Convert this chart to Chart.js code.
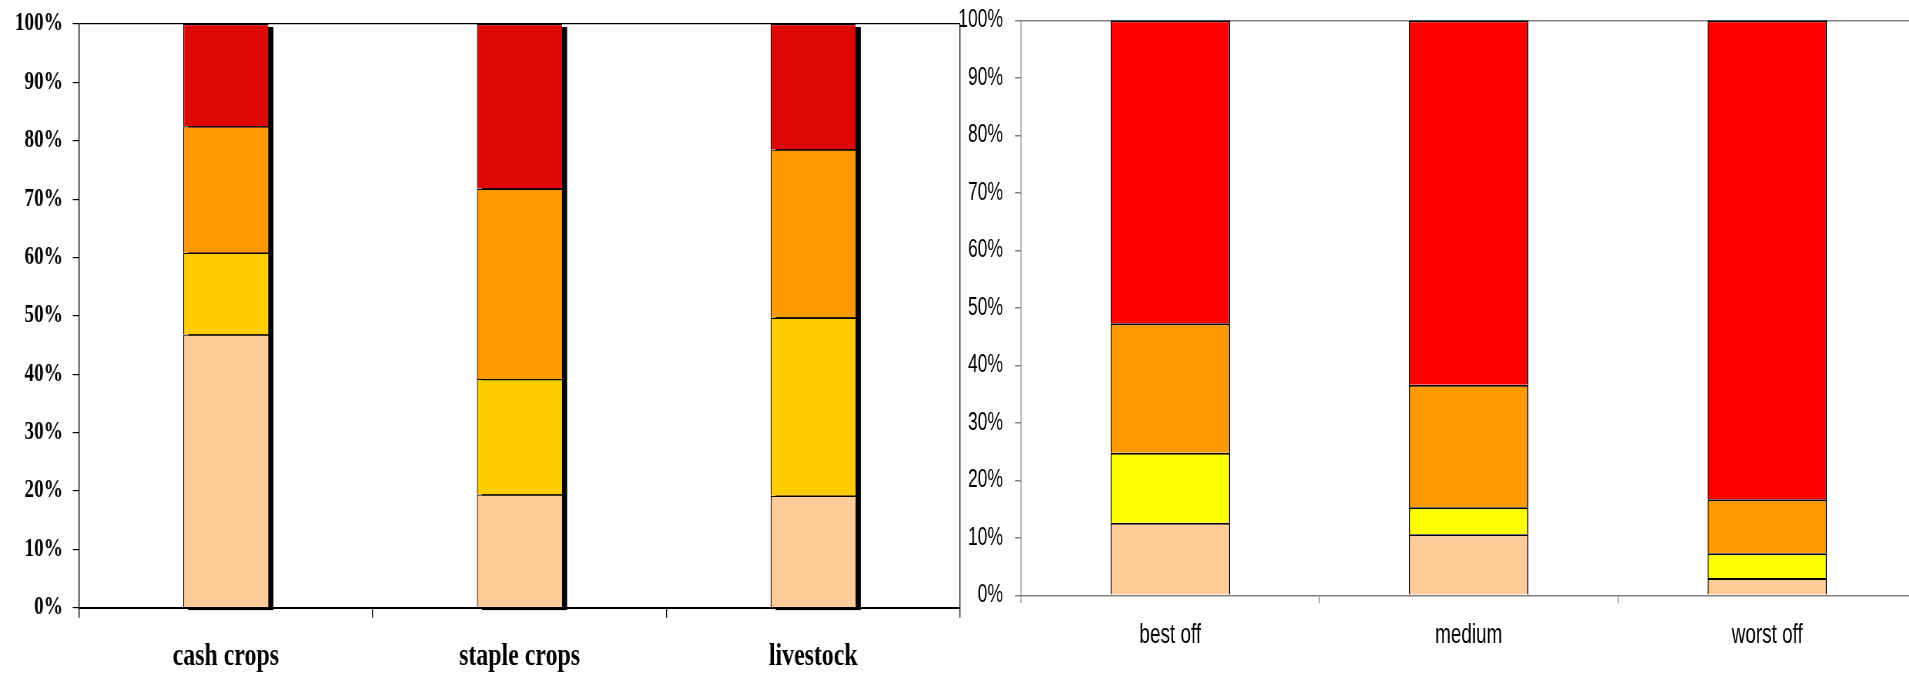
<!DOCTYPE html>
<html>
<head>
<meta charset="utf-8">
<script src="https://cdn.jsdelivr.net/npm/chart.js@4/dist/chart.umd.min.js"></script>
<style>
  html, body { margin: 0; padding: 0; background: #fff; overflow: hidden; width: 1909px; height: 675px; }
  .panel { position: absolute; top: 0; height: 675px; transform-origin: 0 0; }
  #leftPanel { left: 0; width: 1260px; transform: scaleX(0.77); }
  #rightPanel { left: 940px; width: 1405px; transform: scaleX(0.70); }
  canvas { display: block; }
</style>
</head>
<body>
<div class="panel" id="leftPanel"><canvas id="leftChart" width="1260" height="675"></canvas></div>
<div class="panel" id="rightPanel"><canvas id="rightChart" width="1405" height="675"></canvas></div>
<script>
// Activity groups (left panel)
const leftCategories = ['cash crops', 'staple crops', 'livestock'];
const leftTier1 = [46.8, 19.4, 19.2];
const leftTier2 = [14.0, 19.8, 30.5];
const leftTier3 = [21.7, 32.6, 28.8];
const leftTier4 = [17.5, 28.2, 21.5];

// Household wealth groups (right panel)
const rightCategories = ['best off', 'medium', 'worst off'];
const rightTier1 = [12.6, 10.6, 3.0];
const rightTier2 = [12.2, 4.7, 4.3];
const rightTier3 = [22.5, 21.3, 9.4];
const rightTier4 = [52.7, 63.4, 83.3];

// Shared percentage axis labels
const percentTickLabels = ['0%', '10%', '20%', '30%', '40%', '50%', '60%', '70%', '80%', '90%', '100%'];

const leftColors = ['#FFCC99', '#FFCC00', '#FF9900', '#DD0806'];
const rightColors = ['#FFCC99', '#FFFF00', '#FF9900', '#FF0000'];

// Solid drop shadow behind each full stacked column
const barShadow = {
  id: 'barShadow',
  beforeDatasetsDraw(chart, args, opts) {
    if (!opts || !opts.enabled) return;
    const ctx = chart.ctx;
    const metas = chart.getSortedVisibleDatasetMetas();
    const n = chart.data.labels.length;
    ctx.save();
    ctx.fillStyle = opts.color;
    for (let i = 0; i < n; i++) {
      let top = Infinity, bottom = -Infinity, left = 0, width = 0;
      metas.forEach(m => {
        const el = m.data[i];
        if (!el) return;
        const p = el.getProps(['x', 'y', 'base', 'width'], true);
        top = Math.min(top, p.y, p.base);
        bottom = Math.max(bottom, p.y, p.base);
        left = p.x - p.width / 2;
        width = p.width;
      });
      ctx.fillRect(left + opts.dx, top + opts.dy, width, bottom - top);
    }
    ctx.restore();
  }
};
Chart.register(barShadow);

function makeDatasets(series, colors, border) {
  return series.map((values, k) => ({
    label: 'tier ' + (k + 1),
    data: values,
    backgroundColor: colors[k],
    borderColor: '#000',
    borderWidth: border,
    borderSkipped: false,
    inflateAmount: 0
  }));
}

// Fixed axis sizes so the plot areas sit where intended
function fixedWidth(w) {
  return scale => { scale.width = w; scale.paddingTop = 0; scale.paddingBottom = 0; };
}
function fixedHeight(h) {
  return scale => { scale.height = h; scale.paddingLeft = 0; scale.paddingRight = 0; };
}

// Left panel: bold serif labels, black axes, shadowed columns
new Chart(document.getElementById('leftChart'), {
  type: 'bar',
  data: {
    labels: leftCategories,
    datasets: makeDatasets([leftTier1, leftTier2, leftTier3, leftTier4], leftColors,
      { top: 1.3, left: 1.3, right: 0, bottom: 0 })
  },
  options: {
    responsive: false,
    animation: false,
    layout: { padding: { top: 24, right: 13.2, bottom: 0, left: 0 } },
    categoryPercentage: 1,
    barPercentage: 0.29,
    plugins: {
      legend: { display: false },
      tooltip: { enabled: false },
      barShadow: { enabled: true, color: '#000', dx: 6.5, dy: 3 }
    },
    scales: {
      x: {
        stacked: true,
        offset: true,
        afterFit: fixedHeight(67.3),
        grid: {
          offset: true,
          drawOnChartArea: true,
          color: c => (c.type === 'tick' ? 'transparent' : '#000'),
          lineWidth: 1.3,
          tickColor: '#000',
          tickLength: 10
        },
        border: { color: '#000', width: 2 },
        ticks: {
          color: '#000',
          padding: 21,
          maxRotation: 0,
          font: { family: 'Liberation Serif', size: 31, weight: 'bold' }
        }
      },
      y: {
        stacked: true,
        min: 0,
        max: 100,
        afterFit: fixedWidth(102.6),
        grid: {
          color: c => (c.tick && c.tick.value === 100 ? '#000' : 'transparent'),
          lineWidth: 1.2,
          tickColor: '#000',
          tickLength: 8.2
        },
        border: { color: '#000', width: 1.3 },
        ticks: {
          stepSize: 10,
          color: '#000',
          padding: 12.6,
          font: { family: 'Liberation Serif', size: 25, weight: 'bold' },
          callback: (v, i) => percentTickLabels[i]
        }
      }
    }
  }
});

// Right panel: sans-serif labels, grey axes, outlined columns
new Chart(document.getElementById('rightChart'), {
  type: 'bar',
  data: {
    labels: rightCategories,
    datasets: makeDatasets([rightTier1, rightTier2, rightTier3, rightTier4], rightColors,
      { top: 2, left: 1.5, right: 1.5, bottom: 0 })
  },
  options: {
    responsive: false,
    animation: false,
    layout: { padding: { top: 20.3, right: 10.1, bottom: 0, left: 0 } },
    categoryPercentage: 1,
    barPercentage: 0.4,
    plugins: {
      legend: { display: false },
      tooltip: { enabled: false },
      barShadow: { enabled: false }
    },
    scales: {
      x: {
        stacked: true,
        offset: true,
        afterFit: fixedHeight(79.7),
        grid: {
          offset: true,
          drawOnChartArea: false,
          color: '#808080',
          lineWidth: 1.4,
          tickColor: '#808080',
          tickLength: 8
        },
        border: { color: '#808080', width: 1.5 },
        ticks: {
          color: '#000',
          padding: 16,
          maxRotation: 0,
          font: { family: 'Liberation Sans', size: 27 }
        }
      },
      y: {
        stacked: true,
        min: 0,
        max: 100,
        afterFit: fixedWidth(115.7),
        grid: {
          color: c => (c.tick && c.tick.value === 100 ? '#808080' : 'transparent'),
          lineWidth: 1.5,
          tickColor: '#808080',
          tickLength: 8.6
        },
        border: { color: '#808080', width: 1.4 },
        ticks: {
          stepSize: 10,
          color: '#000',
          padding: 17.1,
          font: { family: 'Liberation Sans', size: 25 },
          callback: (v, i) => percentTickLabels[i]
        }
      }
    }
  }
});
</script>
</body>
</html>
